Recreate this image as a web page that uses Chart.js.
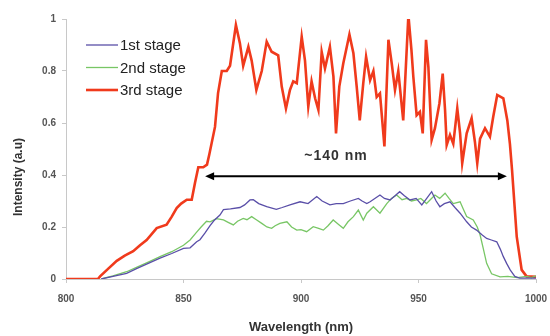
<!DOCTYPE html>
<html>
<head>
<meta charset="utf-8">
<script src="https://cdn.jsdelivr.net/npm/chart.js@4/dist/chart.umd.min.js"></script>
<style>
  html, body { margin: 0; padding: 0; background: #fff; }
  #wrap { width: 550px; height: 336px; }
</style>
</head>
<body>
<div id="wrap"><canvas id="graph"></canvas></div>
<script>
// wavelengths (nm) and intensities (a.u.)
const wl1 = [815, 820, 825.8, 830, 835, 840, 845, 850, 852.8, 855.6, 857, 859.1, 861.3, 863, 865.5, 867, 870, 874, 876, 878.3, 879.7, 882, 885.4, 889.5, 892, 895.3, 899.6, 903, 906.7, 909, 912.3, 915, 918, 921, 924.4, 926, 928, 929.4, 933.6, 935.5, 937.9, 940, 942, 944, 946.4, 949, 951.4, 953.5, 955.6, 957.5, 959.1, 961, 963.4, 965.5, 967.7, 970.5, 972.5, 974.7, 977, 979, 981, 983.3, 984.8, 986.1, 987.5, 989, 991, 993, 1000];
const stage1 = [0, 0.01, 0.022, 0.04, 0.06, 0.08, 0.098, 0.118, 0.12, 0.143, 0.151, 0.176, 0.205, 0.225, 0.246, 0.267, 0.27, 0.275, 0.285, 0.304, 0.305, 0.29, 0.278, 0.268, 0.275, 0.285, 0.297, 0.29, 0.317, 0.3, 0.285, 0.29, 0.29, 0.3, 0.31, 0.3, 0.29, 0.297, 0.323, 0.31, 0.304, 0.32, 0.336, 0.32, 0.304, 0.31, 0.285, 0.31, 0.336, 0.3, 0.278, 0.29, 0.297, 0.275, 0.253, 0.22, 0.2, 0.188, 0.17, 0.156, 0.15, 0.143, 0.115, 0.086, 0.06, 0.035, 0.01, 0.003, 0.003];

const wl2 = [815, 820, 825.8, 830, 835, 840, 845, 850, 852.8, 855.6, 857.5, 859.8, 861.3, 864, 867, 869, 871.2, 873, 875.4, 877, 879, 881, 883.3, 885.5, 887.5, 889, 891, 894, 896, 898.2, 900, 902.4, 905.2, 907.5, 909.5, 911.5, 913.7, 916, 918, 920, 922.3, 924.4, 926.5, 928, 930.8, 933.6, 936.5, 938.5, 940.7, 943, 945, 947, 949.2, 951, 953.4, 955, 957, 959, 961.3, 963, 964.8, 967.7, 969, 970.5, 973.3, 975, 976.2, 977.5, 979, 981.1, 984.7, 988, 992, 996, 998, 1000];
const stage2 = [0, 0.012, 0.028, 0.045, 0.065, 0.086, 0.105, 0.13, 0.15, 0.18, 0.2, 0.222, 0.22, 0.232, 0.227, 0.218, 0.208, 0.222, 0.233, 0.228, 0.24, 0.228, 0.214, 0.2, 0.195, 0.205, 0.214, 0.22, 0.2, 0.188, 0.19, 0.182, 0.201, 0.195, 0.188, 0.205, 0.227, 0.21, 0.195, 0.22, 0.24, 0.265, 0.227, 0.253, 0.278, 0.253, 0.29, 0.31, 0.323, 0.305, 0.31, 0.3, 0.304, 0.31, 0.29, 0.305, 0.323, 0.31, 0.33, 0.31, 0.29, 0.297, 0.27, 0.24, 0.227, 0.2, 0.17, 0.12, 0.06, 0.02, 0.008, 0.01, 0.005, 0.01, 0.005, 0.012];

const wl3 = [800, 813.6, 814.5, 818, 821.6, 825, 828.6, 831.5, 834.3, 838.6, 842.8, 845, 847.1, 849, 851.4, 853.5, 854.9, 856.3, 858.4, 860, 861, 863.4, 864.7, 866.3, 868.4, 869.8, 872.3, 874, 875.4, 877.6, 879, 881, 883.3, 885.4, 887.5, 890.3, 891.8, 893.6, 895.3, 896.7, 898.2, 900.3, 901.7, 903.1, 904.5, 906, 907.4, 908.8, 910.2, 912.3, 913.8, 914.9, 916.3, 918, 920.6, 922.3, 923.7, 925, 926.5, 927.7, 929.4, 930.8, 932.2, 933.6, 935.5, 937.2, 938.6, 940, 941.4, 943.5, 945.7, 947, 947.8, 949.2, 950.6, 951.8, 953.2, 954.2, 955.6, 957, 958.9, 960.3, 961.3, 962, 963.4, 964.8, 966.5, 967.7, 968.6, 970.5, 972.6, 974, 975, 976.2, 978.3, 980.4, 981.8, 983.5, 986.1, 987.8, 988.9, 989.8, 991.8, 993.9, 996, 1000];
const stage3 = [0, 0, 0.01, 0.04, 0.07, 0.09, 0.107, 0.13, 0.15, 0.196, 0.209, 0.24, 0.273, 0.29, 0.305, 0.305, 0.37, 0.43, 0.43, 0.44, 0.48, 0.585, 0.715, 0.8, 0.8, 0.82, 0.977, 0.907, 0.82, 0.893, 0.84, 0.727, 0.8, 0.913, 0.874, 0.86, 0.74, 0.656, 0.727, 0.76, 0.753, 0.932, 0.84, 0.663, 0.76, 0.695, 0.65, 0.874, 0.81, 0.893, 0.778, 0.56, 0.74, 0.83, 0.94, 0.868, 0.74, 0.61, 0.753, 0.855, 0.765, 0.8, 0.7, 0.714, 0.51, 0.92, 0.83, 0.727, 0.8, 0.61, 1.015, 0.88, 0.778, 0.63, 0.643, 0.56, 0.92, 0.816, 0.535, 0.58, 0.675, 0.79, 0.65, 0.515, 0.554, 0.52, 0.656, 0.56, 0.445, 0.56, 0.618, 0.528, 0.445, 0.54, 0.58, 0.547, 0.624, 0.708, 0.695, 0.61, 0.52, 0.42, 0.163, 0.035, 0.01, 0.008];

const seriesNames = ["1st stage", "2nd stage", "3rd stage"];
const xTicks = [800, 850, 900, 950, 1000];
const xTickLabels = ["800", "850", "900", "950", "1000"];
const yTicks = [0, 0.2, 0.4, 0.6, 0.8, 1];
const yTickLabels = ["0", "0.2", "0.4", "0.6", "0.8", "1"];

// bandwidth arrow
const arrowEnds = [859.2, 987.6];
const arrowLevel = 0.395;
const arrowLabel = "~140 nm";

const pts = (xs, ys) => xs.map((x, i) => ({ x: x, y: ys[i] }));

// legend, arrow and axis titles are drawn by hand
const extras = {
  id: 'extras',
  afterDraw(chart) {
    const ctx = chart.ctx;
    const xs = chart.scales.x, ys = chart.scales.y;
    ctx.save();

    // legend in the top left of the plot
    chart.data.datasets.forEach((ds, i) => {
      const y = 45 + i * 22.5;
      ctx.strokeStyle = ds.borderColor;
      ctx.lineWidth = ds.borderWidth;
      ctx.beginPath();
      ctx.moveTo(86, y);
      ctx.lineTo(118, y);
      ctx.stroke();
      ctx.fillStyle = '#222';
      ctx.font = '15px "Liberation Sans", Arial, sans-serif';
      ctx.textBaseline = 'middle';
      ctx.textAlign = 'left';
      ctx.fillText(ds.label, 120, y + 1);
    });

    // double arrow
    const x1 = xs.getPixelForValue(arrowEnds[0]);
    const x2 = xs.getPixelForValue(arrowEnds[1]);
    const ya = ys.getPixelForValue(arrowLevel);
    ctx.strokeStyle = '#000';
    ctx.fillStyle = '#000';
    ctx.lineWidth = 2;
    ctx.beginPath();
    ctx.moveTo(x1 + 4, ya);
    ctx.lineTo(x2 - 4, ya);
    ctx.stroke();
    [[x1, 1], [x2, -1]].forEach(([x, d]) => {
      ctx.beginPath();
      ctx.moveTo(x, ya);
      ctx.lineTo(x + d * 9, ya - 4);
      ctx.lineTo(x + d * 9, ya + 4);
      ctx.closePath();
      ctx.fill();
    });

    ctx.fillStyle = '#333';
    ctx.font = 'bold 14px "Liberation Sans", Arial, sans-serif';
    ctx.letterSpacing = '1px';
    ctx.textAlign = 'center';
    ctx.textBaseline = 'middle';
    ctx.fillText(arrowLabel, (x1 + x2) / 2 - 20, ya - 20);
    ctx.letterSpacing = '0px';

    // axis titles
    ctx.fillStyle = '#333';
    ctx.font = 'bold 13px "Liberation Sans", Arial, sans-serif';
    ctx.fillText('Wavelength (nm)', (chart.chartArea.left + chart.chartArea.right) / 2, 327);
    ctx.font = 'bold 12px "Liberation Sans", Arial, sans-serif';
    ctx.translate(19, 177);
    ctx.rotate(-Math.PI / 2);
    ctx.fillText('Intensity (a.u)', 0, 0);
    ctx.restore();
  }
};

const tickFont = { family: '"Liberation Sans", Arial, sans-serif', size: 10, weight: 'bold' };

new Chart(document.getElementById('graph').getContext('2d'), {
  type: 'line',
  data: {
    datasets: [
      { label: seriesNames[0], data: pts(wl1, stage1), borderColor: '#5a4fa8', borderWidth: 1.3 },
      { label: seriesNames[1], data: pts(wl2, stage2), borderColor: '#78c665', borderWidth: 1.3 },
      { label: seriesNames[2], data: pts(wl3, stage3), borderColor: '#f03a1c', borderWidth: 2.6 }
    ]
  },
  options: {
    responsive: true,
    maintainAspectRatio: false,
    animation: false,
    elements: { point: { radius: 0 }, line: { tension: 0 } },
    layout: { padding: { top: 19, right: 0, left: 0, bottom: 0 } },
    plugins: { legend: { display: false }, tooltip: { enabled: false } },
    scales: {
      x: {
        type: 'linear',
        min: 800,
        max: 1000,
        afterBuildTicks: (s) => { s.ticks = xTicks.map(v => ({ value: v })); },
        afterFit: (s) => { s.height = 57; s.paddingLeft = 0; s.paddingRight = 14; },
        grid: { drawOnChartArea: false, drawTicks: true, tickLength: 4, color: '#c8c8c8' },
        border: { display: true, color: '#c8c8c8', width: 1 },
        ticks: {
          color: '#555', font: tickFont, padding: 10, maxRotation: 0,
          callback: (v) => xTickLabels[xTicks.indexOf(v)]
        }
      },
      y: {
        min: 0,
        max: 1,
        afterBuildTicks: (s) => { s.ticks = yTicks.map(v => ({ value: v })); },
        afterFit: (s) => { s.width = 66; },
        grid: { drawOnChartArea: false, drawTicks: true, tickLength: 4, color: '#c8c8c8' },
        border: { display: true, color: '#c8c8c8', width: 1 },
        ticks: {
          color: '#555', font: tickFont, padding: 6,
          callback: (v) => yTickLabels[yTicks.indexOf(v)]
        }
      }
    }
  },
  plugins: [extras]
});
</script>
</body>
</html>
